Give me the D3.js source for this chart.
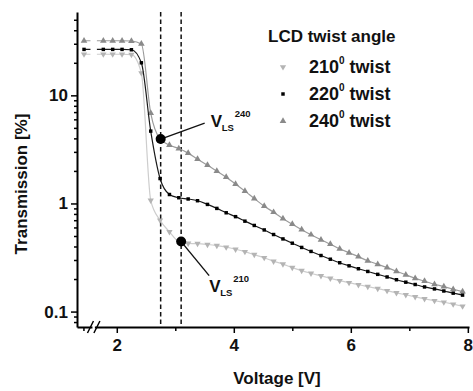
<!DOCTYPE html>
<html>
<head>
<meta charset="utf-8">
<script src="https://cdn.jsdelivr.net/npm/d3@7"></script>
<style>
  body { margin: 0; background: #fff; }
  svg { display: block; }
  text { font-family: "Liberation Sans", Arial, sans-serif; font-weight: bold; fill: #111; }
</style>
</head>
<body>
<svg id="chart" width="473" height="391"></svg>
<script>
// voltage grid (V), first point sits before the axis break
const voltage = [1.44, 1.77, 1.93, 2.09, 2.25, 2.42, 2.58, 2.74, 2.90, 3.06,
                 3.22, 3.38, 3.55, 3.71, 3.87, 4.03, 4.19, 4.35, 4.52, 4.68,
                 4.84, 5.00, 5.16, 5.32, 5.49, 5.65, 5.81, 5.97, 6.13, 6.29,
                 6.46, 6.62, 6.78, 6.94, 7.10, 7.26, 7.43, 7.59, 7.75, 7.91];

// transmission [%]
const t210 = [24.0, 24.0, 24.0, 24.0, 23.8, 16.1, 1.07, 0.70, 0.546, 0.444,
              0.427, 0.425, 0.417, 0.407, 0.394, 0.377, 0.358, 0.336, 0.315, 0.292,
              0.275, 0.255, 0.239, 0.226, 0.214, 0.203, 0.193, 0.185, 0.177, 0.170,
              0.163, 0.156, 0.149, 0.143, 0.137, 0.131, 0.126, 0.122, 0.117, 0.112];
const t220 = [26.6, 26.6, 26.6, 26.6, 26.4, 20.0, 4.67, 1.70, 1.21, 1.13,
              1.10, 1.06, 0.98, 0.90, 0.82, 0.755, 0.686, 0.626, 0.569, 0.516,
              0.470, 0.429, 0.392, 0.360, 0.330, 0.305, 0.283, 0.265, 0.249, 0.235,
              0.221, 0.209, 0.197, 0.187, 0.178, 0.169, 0.162, 0.155, 0.148, 0.142];
const t240 = [32.0, 32.0, 32.0, 32.0, 31.8, 29.9, 6.86, 3.94, 3.47, 3.22,
              2.92, 2.57, 2.26, 1.99, 1.75, 1.51, 1.30, 1.11, 0.944, 0.830,
              0.723, 0.643, 0.572, 0.514, 0.462, 0.420, 0.381, 0.350, 0.322, 0.295,
              0.274, 0.255, 0.236, 0.219, 0.203, 0.191, 0.179, 0.170, 0.161, 0.153];

const seriesNames = ["210", "220", "240"];
const xTicks = [2, 4, 6, 8];
const xMinorTicks = [1.43, 3, 5, 7];
const yTicks = [0.1, 1, 10];
const lsLines = [2.75, 3.10];           // dashed V_LS markers
const lsPoints = [[2.75, 3.94, "240"], [3.10, 0.444, "210"]];
const breakRange = [1.55, 1.66];

const svg = d3.select("#chart");
const x = d3.scaleLinear().domain([1.32, 8.02]).range([77, 469]);
const y = d3.scaleLog().domain([0.072, 59]).range([327, 12]);

const styles = {
  "210": { line: "#cdcdcd", fill: "#b4b4b4", shape: d3.symbolTriangle, rot: 180, size: 17 },
  "220": { line: "#1a1a1a", fill: "#000", shape: d3.symbolSquare, rot: 0, size: 12 },
  "240": { line: "#9c9c9c", fill: "#8a8a8a", shape: d3.symbolTriangle, rot: 0, size: 19 }
};
const values = { "210": t210, "220": t220, "240": t240 };

// clip out the axis break for the curves
const clip = svg.append("clipPath").attr("id", "brk");
clip.append("rect").attr("x", 0).attr("y", 0)
  .attr("width", x(breakRange[0])).attr("height", 391);
clip.append("rect").attr("x", x(breakRange[1])).attr("y", 0)
  .attr("width", 473 - x(breakRange[1])).attr("height", 391);

// dashed lines
svg.selectAll(".ls").data(lsLines).enter().append("line")
  .attr("x1", d => x(d)).attr("x2", d => x(d))
  .attr("y1", y.range()[1]).attr("y2", y.range()[0])
  .attr("stroke", "#111").attr("stroke-width", 1.5)
  .attr("stroke-dasharray", "4.5,3");

const line = d3.line().curve(d3.curveMonotoneX)
  .x(d => x(d[0])).y(d => y(d[1]));

["210", "240", "220"].forEach(name => {
  const st = styles[name];
  const pts = voltage.map((v, i) => [v, values[name][i]]);
  svg.append("path").datum(pts)
    .attr("d", line)
    .attr("fill", "none")
    .attr("stroke", st.line)
    .attr("stroke-width", 1.2)
    .attr("clip-path", "url(#brk)");
  svg.append("g").selectAll("path").data(pts).enter().append("path")
    .attr("d", d3.symbol().type(st.shape).size(st.size))
    .attr("transform", d => `translate(${x(d[0])},${y(d[1])}) rotate(${st.rot})`)
    .attr("fill", st.fill);
});

// axes
svg.append("g").attr("transform", `translate(0,${y.range()[0]})`)
  .call(d3.axisBottom(x).tickValues(xTicks).tickSize(6).tickSizeOuter(0).tickPadding(6)
    .tickFormat(d3.format("d")));
svg.append("g").attr("transform", `translate(0,${y.range()[0]})`)
  .call(d3.axisBottom(x).tickValues(xMinorTicks).tickSize(4).tickFormat(""))
  .call(g => g.select(".domain").remove());

svg.append("g").attr("transform", `translate(${x.range()[0]},0)`)
  .call(d3.axisLeft(y).tickValues(yTicks).tickSize(6).tickSizeOuter(0).tickPadding(3)
    .tickFormat(d => d < 1 ? "0.1" : d3.format("d")(d)));
const minor = y.ticks().filter(d => !yTicks.includes(d));
svg.append("g").attr("transform", `translate(${x.range()[0]},0)`)
  .call(d3.axisLeft(y).tickValues(minor).tickSize(3).tickFormat(""))
  .call(g => g.select(".domain").remove());

svg.selectAll(".domain").attr("stroke", "#000").attr("stroke-width", 2);
svg.selectAll(".tick line").attr("stroke", "#000").attr("stroke-width", 1.5);
svg.selectAll(".tick text").attr("font-size", 17).attr("font-weight", "bold")
  .attr("font-family", '"Liberation Sans", Arial, sans-serif').attr("fill", "#111");

// axis break marks
const bx0 = x(breakRange[0]), bx1 = x(breakRange[1]), by = y.range()[0];
svg.append("rect").attr("x", bx0 + 2).attr("y", by - 2)
  .attr("width", bx1 - bx0 - 4).attr("height", 4).attr("fill", "#fff");
[bx0, bx1].forEach(bx => {
  svg.append("line")
    .attr("x1", bx - 3).attr("y1", by + 6).attr("x2", bx + 3).attr("y2", by - 6)
    .attr("stroke", "#000").attr("stroke-width", 1.5);
});

// axis titles
svg.append("text").attr("x", 277).attr("y", 384)
  .attr("text-anchor", "middle").attr("font-size", 17).text("Voltage [V]");
svg.append("text")
  .attr("transform", "translate(27,184) rotate(-90)")
  .attr("text-anchor", "middle").attr("font-size", 17).text("Transmission [%]");

// V_LS annotations
lsPoints.forEach(p => {
  const cx = x(p[0]), cy = y(p[1]);
  const up = p[2] === "240";
  const lx = up ? cx + 44 : cx + 28, ly = up ? cy - 16 : cy + 34;
  svg.append("line").attr("x1", cx).attr("y1", cy).attr("x2", lx).attr("y2", ly)
    .attr("stroke", "#111").attr("stroke-width", 1.4);
  svg.append("circle").attr("cx", cx).attr("cy", cy).attr("r", 5).attr("fill", "#000");
  const tx = up ? cx + 50 : cx + 28, ty = up ? cy - 12 : cy + 50;
  svg.append("text").attr("x", tx).attr("y", ty).attr("font-size", 17).text("V");
  svg.append("text").attr("x", tx + 11).attr("y", ty + 4).attr("font-size", 9.5).text("LS");
  svg.append("text").attr("x", tx + 24).attr("y", ty - 10).attr("font-size", 9.5).text(p[2]);
});

// legend
const legend = svg.append("g");
legend.append("text").attr("x", 268).attr("y", 42).attr("font-size", 17).text("LCD twist angle");
seriesNames.forEach((name, i) => {
  const st = styles[name];
  const ly = 73 + i * 27;
  legend.append("path")
    .attr("d", d3.symbol().type(st.shape).size(st.size))
    .attr("transform", `translate(283,${ly - 6}) rotate(${st.rot})`)
    .attr("fill", st.fill);
  const t = legend.append("text").attr("x", 309).attr("y", ly).attr("font-size", 18);
  t.append("tspan").text(name);
  t.append("tspan").attr("font-size", 10).attr("dy", -9).text("0");
  t.append("tspan").attr("dy", 9).text(" twist");
});
</script>
</body>
</html>
